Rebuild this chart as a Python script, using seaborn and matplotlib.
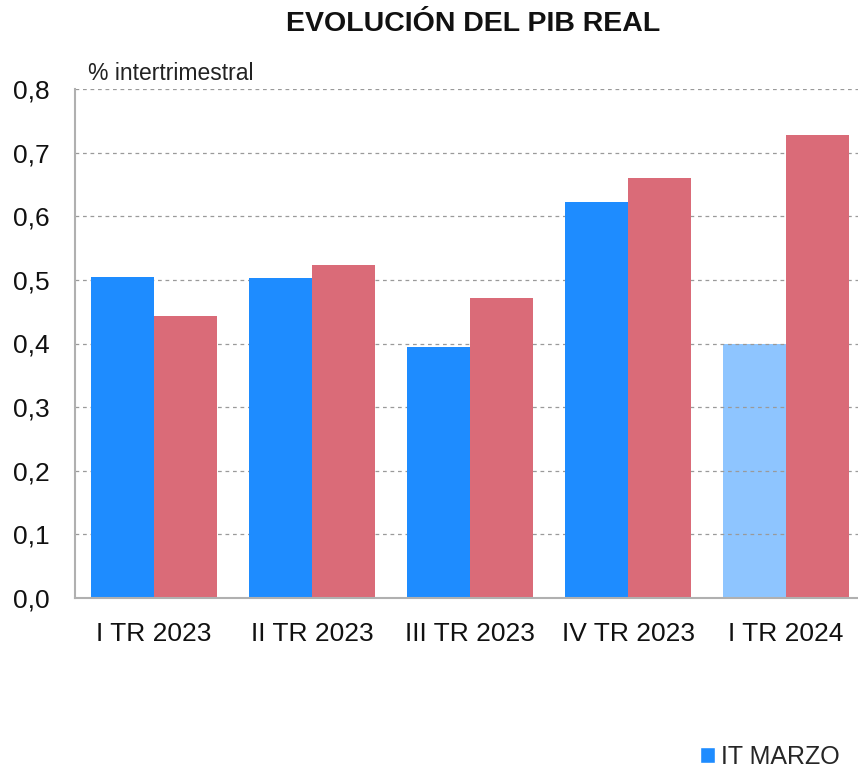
import matplotlib
matplotlib.use("Agg")
import matplotlib.pyplot as plt
from matplotlib.ticker import FixedLocator, FuncFormatter
from matplotlib.patches import Patch
import pandas as pd
import seaborn as sns

# datos
trimestres = ["I TR 2023", "II TR 2023", "III TR 2023", "IV TR 2023", "I TR 2024"]
it_marzo = [0.505, 0.503, 0.395, 0.623, 0.400]
it_junio = [0.443, 0.524, 0.472, 0.660, 0.728]
series = ["IT MARZO", "IT JUNIO"]
colores = ["#1E8CFF", "#DA6B78"]

df = pd.DataFrame({
    "trimestre": trimestres * 2,
    "serie": [series[0]] * 5 + [series[1]] * 5,
    "valor": it_marzo + it_junio,
})

sns.set_style("white")
plt.rcParams["font.family"] = ["Liberation Sans", "DejaVu Sans"]

fig = plt.figure(figsize=(8.58, 7.7), dpi=100)
ax = fig.add_axes([75 / 858, 172 / 770, 790 / 858, 509 / 770])

sns.barplot(data=df, x="trimestre", y="valor", hue="serie", order=trimestres,
            hue_order=series, palette=colores, width=0.8, linewidth=0,
            saturation=1, ax=ax, legend=False)

# la ultima barra azul es una prevision, mas clara (deja ver la rejilla)
ax.containers[0][4].set_alpha(0.5)
ax.containers[0][4].set_zorder(0.3)

ax.set_xlim(-0.5, 4.5)
ax.set_ylim(0, 0.8)
ax.set_yticks([i / 10 for i in range(9)])
ax.yaxis.set_major_formatter(FuncFormatter(lambda v, p: f"{v:.1f}".replace(".", ",")))
ax.set_xlabel("")
ax.set_ylabel("")

ax.grid(axis="y", color="#9a9a9a", linestyle=(0, (3, 3)), linewidth=0.9)
ax.set_axisbelow(True)
for s in ["top", "right"]:
    ax.spines[s].set_visible(False)
for s in ["left", "bottom"]:
    ax.spines[s].set_color("#b0b0b0")
    ax.spines[s].set_linewidth(1.5)

ax.tick_params(axis="y", direction="in", length=5, color="#b0b0b0",
               labelsize=19, pad=18, labelcolor="#111111")
ax.tick_params(axis="x", which="major", length=0, labelsize=19, pad=17,
               labelcolor="#111111")
ax.xaxis.set_minor_locator(FixedLocator([0.5, 1.5, 2.5, 3.5]))
ax.tick_params(axis="x", which="minor", direction="in", length=8,
               color="#b0b0b0", width=1.2)

fig.text(473 / 858, 1 - 24 / 770, "EVOLUCIÓN DEL PIB REAL", ha="center",
         va="center", fontsize=20.5, fontweight="bold", color="#111111")
fig.text(88 / 858, 1 - 73 / 770, "% intertrimestral", ha="left", va="center",
         fontsize=16.5, color="#222222")

fig.legend(handles=[Patch(facecolor=colores[0], label=series[0])],
           loc="center right", bbox_to_anchor=(852 / 858, 1 - 757 / 770),
           frameon=False, fontsize=18, handlelength=0.6, handleheight=0.6,
           handletextpad=0.25, borderpad=0)

fig.savefig("out.png", dpi=100)
